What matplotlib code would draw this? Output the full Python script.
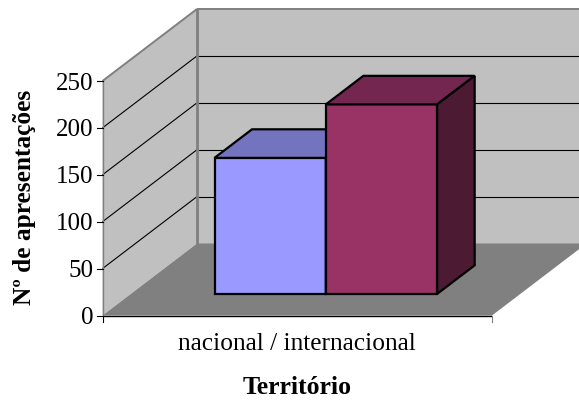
import matplotlib
matplotlib.use("Agg")
import matplotlib.pyplot as plt
from matplotlib.patches import Polygon

plt.rcParams["font.family"] = ["Liberation Serif", "DejaVu Serif"]

Y_TICKS = [0, 50, 100, 150, 200, 250]
CATEGORY = "nacional / internacional"
VALUES = [145, 202]
Y_LABEL = "Nº de apresentações"
X_LABEL = "Território"

BAR_COLORS = [
    ("#9999FF", "#7373BF", "#4D4D80"),
    ("#993366", "#732650", "#4D1A33"),
]
WALL = "#C0C0C0"
FLOOR = "#808080"
EDGE = "#808080"

# pixel layout of the 3d box
LEFT, RIGHT = 102.5, 492.0
BASE, TOP = 315.5, 81.0
DEPTH_X, DEPTH_Y = 94.5, 72.0
BAR_LEFT, BAR_WIDTH = 0.2148, 0.2858  # fractions of the box width
BAR_DEPTH = (0.30, 0.697)


def project(x, value, depth):
    px = LEFT + x * (RIGHT - LEFT) + depth * DEPTH_X
    py = BASE - value / Y_TICKS[-1] * (BASE - TOP) - depth * DEPTH_Y
    return px, py


def face(ax, corners, color, edge=None, lw=0.0, z=1):
    ax.add_patch(Polygon([project(*c) for c in corners], closed=True, facecolor=color,
                         edgecolor=edge if edge else "none", linewidth=lw, joinstyle="miter", zorder=z))


def line(ax, a, b, color="black", lw=0.8, z=2):
    pa, pb = project(*a), project(*b)
    ax.plot([pa[0], pb[0]], [pa[1], pb[1]], color=color, lw=lw, zorder=z, solid_capstyle="butt")


def draw_bar(ax, x0, x1, value, colors, z):
    d0, d1 = BAR_DEPTH
    front, top, side = colors
    face(ax, [(x0, 0, d0), (x1, 0, d0), (x1, value, d0), (x0, value, d0)], front, "black", 1.6, z)
    face(ax, [(x0, value, d0), (x1, value, d0), (x1, value, d1), (x0, value, d1)], top, "black", 1.6, z)
    face(ax, [(x1, 0, d0), (x1, 0, d1), (x1, value, d1), (x1, value, d0)], side, "black", 1.6, z)


fig = plt.figure(figsize=(5.79, 4.0), dpi=100, facecolor="white")
ax = fig.add_axes([0, 0, 1, 1])
ax.set_xlim(0, 579)
ax.set_ylim(400, 0)
ax.axis("off")

top_value = Y_TICKS[-1]

# walls and floor
face(ax, [(0, 0, 1), (1, 0, 1), (1, top_value, 1), (0, top_value, 1)], WALL)
face(ax, [(0, 0, 0), (0, 0, 1), (0, top_value, 1), (0, top_value, 0)], WALL)
face(ax, [(0, 0, 0), (1, 0, 0), (1, 0, 1), (0, 0, 1)], FLOOR)

# gridlines
for tick in Y_TICKS[1:-1]:
    line(ax, (0, tick, 0), (0, tick, 1), lw=0.8)
    line(ax, (0, tick, 1), (1, tick, 1), lw=0.8)

# wall borders
line(ax, (0, top_value, 0), (0, top_value, 1), EDGE, 1.4, 3)
line(ax, (0, top_value, 1), (1, top_value, 1), EDGE, 1.4, 3)
line(ax, (0, 0, 1), (0, top_value, 1), EDGE, 2.0, 3)
line(ax, (0, 0, 0), (0, top_value, 0), EDGE, 1.0, 3)

# bars
for i, (value, colors) in enumerate(zip(VALUES, BAR_COLORS)):
    x0 = BAR_LEFT + i * BAR_WIDTH
    draw_bar(ax, x0, x0 + BAR_WIDTH, value, colors, 4 + i)

# axis lines and ticks
line(ax, (0, 0, 0), (1, 0, 0), "black", 1.0, 7)
for tick in Y_TICKS:
    px, py = project(0, tick, 0)
    ax.plot([px - 5.5, px], [py, py], color="black", lw=0.8, zorder=7)
    ax.text(px - 9, py, str(tick), ha="right", va="center_baseline", fontsize=18, color="black")
for x in (0, 1):
    px, py = project(x, 0, 0)
    ax.plot([px, px], [py, py + 6], color=EDGE if x else "black", lw=0.8, zorder=7)

ax.text(297, 344, CATEGORY, ha="center", va="center", fontsize=18.3)
ax.text(297, 388, X_LABEL, ha="center", va="center", fontsize=18.5, fontweight="bold")
ax.text(25, 197, Y_LABEL, ha="center", va="center", rotation=90, fontsize=18.3, fontweight="bold")

fig.savefig("out.png", dpi=100, facecolor="white")
